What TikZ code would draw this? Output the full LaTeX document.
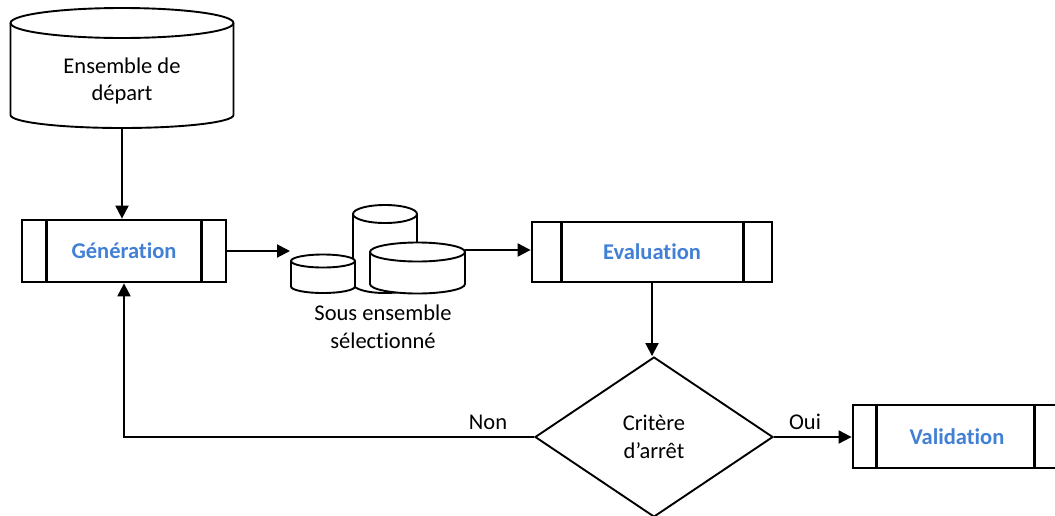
\documentclass[tikz,border=0pt]{standalone}
\usepackage{fontspec}
\setmainfont{Carlito}[RawFeature={-liga;-clig;-calt;-dlig}]
\usetikzlibrary{shapes.geometric,arrows.meta}
\definecolor{labelblue}{RGB}{66,128,214}
\tikzset{
  x=1pt, y=1pt,
  every node/.style={font=\fontsize{22.5}{27.5}\selectfont, align=center, inner sep=0pt},
  procbox/.style={draw, line width=2.8pt, rectangle, minimum height=62pt,
                  text=labelblue, font=\fontsize{22.5}{27.5}\selectfont\bfseries},
  cylshape/.style={draw, line width=1.9pt, fill=white},
  link/.style={line width=2pt, -{Triangle[length=13pt,width=13pt]}},
}
% cylinder: centre x, top ellipse y, bottom ellipse y, x radius, top y radius, bottom y radius
\newcommand\drumshape[6]{%
  \path[cylshape] (#1-#4,-#2) -- (#1-#4,-#3)
    arc[start angle=180, end angle=360, x radius=#4, y radius=#6]
    -- (#1+#4,-#2)
    arc[start angle=0, end angle=180, x radius=#4, y radius=#5] -- cycle;
  \draw[line width=1.9pt] (#1-#4,-#2)
    arc[start angle=180, end angle=360, x radius=#4, y radius=#5];
}
\begin{document}
\begin{tikzpicture}
\useasboundingbox (0,0) rectangle (1055,-515);
\fill[white] (0,0) rectangle (1055,-515);
\clip (0,0) rectangle (1055,-515);

% starting set
\drumshape{122}{23}{115}{111.5}{15}{13}
\node (depart) at (122,-81) {Ensemble de\\départ};
\coordinate (depart-bottom) at (122,-128);

% process boxes
\node[procbox, minimum width=204pt] (gen) at (124,-251) {Génération};
\draw[line width=2.8pt] ([xshift=26pt]gen.north west) -- ([xshift=26pt]gen.south west)
                        ([xshift=-26pt]gen.north east) -- ([xshift=-26pt]gen.south east);

\node[procbox, minimum width=240pt, minimum height=60pt] (eval) at (652,-252) {Evaluation};
\draw[line width=2.8pt] ([xshift=31pt]eval.north west) -- ([xshift=31pt]eval.south west)
                        ([xshift=-30pt]eval.north east) -- ([xshift=-30pt]eval.south east);

\node[procbox, minimum width=208pt, minimum height=63pt] (valid) at (957,-436.5) {Validation};
\draw[line width=2.8pt] ([xshift=25pt]valid.north west) -- ([xshift=25pt]valid.south west)
                        ([xshift=-28pt]valid.north east) -- ([xshift=-28pt]valid.south east);

% selected subset
\drumshape{385}{214}{284}{32}{9}{9}
\drumshape{323}{261}{286.5}{32}{6.5}{6.5}
\drumshape{417.5}{252}{284}{47.5}{9.5}{9.5}
\coordinate (sub-in) at (290,-251);
\coordinate (sub-out) at (465,-250);
\node (sous) at (383,-327) {Sous ensemble\\sélectionné};

% stopping criterion
\node[draw, diamond, line width=1.9pt, minimum width=238pt, minimum height=160pt] (crit) at (654,-437) {Critère\\d’arrêt};

% connectors
\draw[link] (depart-bottom) -- (depart-bottom |- gen.north);
\draw[link] (gen.east) -- (sub-in);
\draw[link] (sub-out) -- (sub-out -| eval.west);
\draw[link] (eval.south) -- (eval.south |- crit.north);
\draw[link] (crit.west) -| (gen.south);
\draw[link] (crit.east) -- (crit.east -| valid.west);

\node (non) at (488,-422) {Non};
\node (oui) at (805,-422) {Oui};
\end{tikzpicture}
\end{document}
